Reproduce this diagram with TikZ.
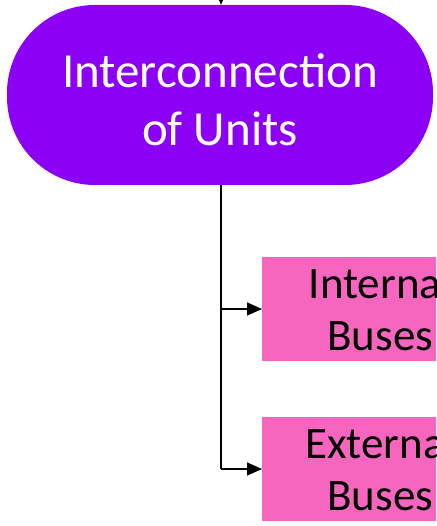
\documentclass[tikz,border=0pt]{standalone}
\usepackage{fontspec}
\setmainfont{Carlito}
\usetikzlibrary{arrows.meta,positioning}
\definecolor{unitpurple}{HTML}{8C00F5}
\definecolor{buspink}{HTML}{F766BE}

\begin{document}
\begin{tikzpicture}[
  x=1pt,y=-1pt,
  topic/.style={fill=unitpurple,rounded corners=88pt,minimum width=426pt,minimum height=180pt},
  topictext/.style={text=white,align=center,font=\fontsize{49}{58}\selectfont},
  leaf/.style={fill=buspink,text=black,minimum width=236pt,minimum height=104pt,align=center,inner sep=0pt,font=\fontsize{45}{52}\selectfont},
  wire/.style={line width=1.3pt},
  link/.style={wire,-{Triangle[length=15pt,width=13pt]}}
]
  \clip (0,0) rectangle (436,526);
  \node[topic] (units) at (220,95) {};
  \node[topictext] (unitslabel) at (220,100) {Interconnection\\of Units};
  \node[leaf,anchor=west] (internal) at (262,309) {Internal\\Buses};
  \node[leaf,anchor=west] (external) at (262,469) {External\\Buses};

  \coordinate (in) at (221,-20);
  \draw[link] (in) -- (units.north -| in);
  \draw[wire] (units.south -| in) -- (in |- external.west);
  \draw[link] (in |- internal.west) -- (internal.west);
  \draw[link] (in |- external.west) -- (external.west);
\end{tikzpicture}
\end{document}
